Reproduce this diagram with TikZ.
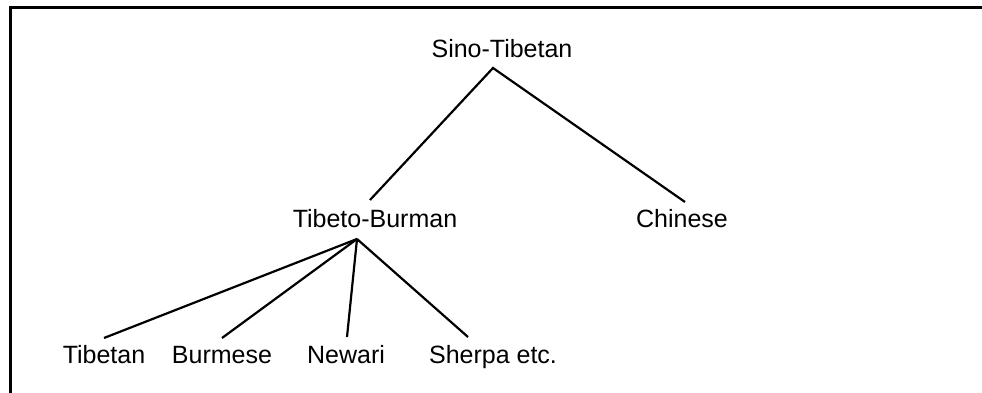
\documentclass[tikz,border=0pt]{standalone}
\usepackage{fontspec}
\setmainfont{Liberation Sans}
\begin{document}
\begin{tikzpicture}[x=1pt,y=-1pt,
  lbl/.style={inner sep=0pt, anchor=base, font=\fontsize{25}{30}\selectfont},
  branch/.style={line width=2.2pt}]
\useasboundingbox (0,0) rectangle (982,393);
% open frame: left and top edges only
\draw[line width=3pt] (10.5,400) -- (10.5,7.5) -- (990,7.5);

% language nodes
\node[lbl] (st)   at (502,58)  {Sino-Tibetan};
\node[lbl] (tb)   at (375,227) {Tibeto-Burman};
\node[lbl] (zh)   at (682,227) {Chinese};
\node[lbl] (tib)  at (104,363) {Tibetan};
\node[lbl] (bur)  at (222,363) {Burmese};
\node[lbl] (new)  at (346,363) {Newari};
\node[lbl] (sher) at (493,363) {Sherpa etc.};

% branches
\draw[branch] ([shift={(-5,-27)}]tb.base) -- ([shift={(-9,10)}]st.base)
              -- ([shift={(3,-25)}]zh.base);
\draw[branch] ([shift={(-18,12)}]tb.base) -- ([shift={(0,-25)}]tib.base);
\draw[branch] ([shift={(-18,12)}]tb.base) -- ([shift={(0,-25)}]bur.base);
\draw[branch] ([shift={(-18,12)}]tb.base) -- ([shift={(1,-26)}]new.base);
\draw[branch] ([shift={(-18,12)}]tb.base) -- ([shift={(-25,-26)}]sher.base);
\end{tikzpicture}
\end{document}
